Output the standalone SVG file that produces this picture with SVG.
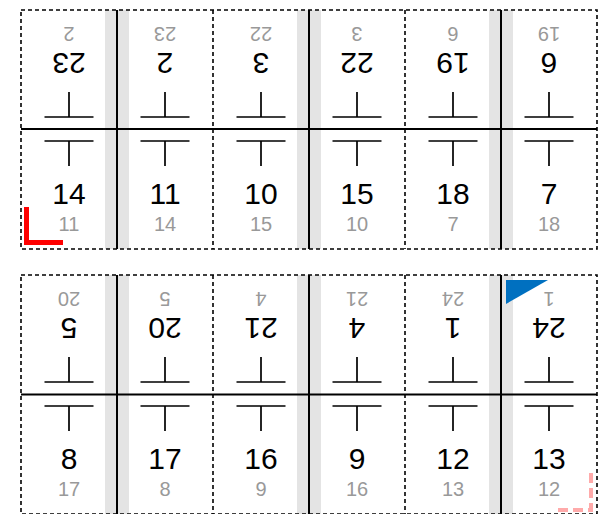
<svg xmlns="http://www.w3.org/2000/svg" width="600" height="514" viewBox="0 0 600 514">
<style>
.bg{fill:#ffffff}
.band{fill:#e4e4e4}
.cut{fill:none;stroke:#000;stroke-width:1.6;stroke-dasharray:4,3}
.spine{stroke:#000;stroke-width:2;fill:none}
.mark{stroke:#000;stroke-width:1.7;fill:none}
.big{font-family:"Liberation Sans",Arial,sans-serif;font-size:30px;fill:#000;text-anchor:middle}
.small{font-family:"Liberation Sans",Arial,sans-serif;font-size:20px;fill:#999;text-anchor:middle}
</style>
<defs>
<g id="tmarks">
<path class="mark" d="M0,92V117M-24.5,117H24.5M-24.5,141H24.5M0,141V166"/>
</g>
</defs>
<rect class="bg" x="0" y="0" width="600" height="514"/>

<!-- Sheet 1 -->
<g id="sheet1">
<g id="sheet1-bands">
<rect class="band" x="105" y="10" width="24" height="239"/>
<rect class="band" x="297" y="10" width="24" height="239"/>
<rect class="band" x="489" y="10" width="24" height="239"/>
</g>
<g id="sheet1-lines">
<rect class="cut" x="21" y="10" width="576" height="239"/>
<line class="cut" x1="213" y1="10" x2="213" y2="249"/>
<line class="cut" x1="405" y1="10" x2="405" y2="249"/>
<line class="spine" x1="117" y1="10" x2="117" y2="249"/>
<line class="spine" x1="309" y1="10" x2="309" y2="249"/>
<line class="spine" x1="501" y1="10" x2="501" y2="249"/>
<line class="spine" x1="21" y1="129" x2="597" y2="129"/>
</g>
<g id="s1-c1"><use href="#tmarks" x="69"/>
<text class="small" x="69" y="27" transform="rotate(180 69 27)">2</text>
<text class="big" x="69" y="53" transform="rotate(180 69 53)">23</text>
<text class="big" x="69" y="204">14</text>
<text class="small" x="69" y="231">11</text></g>
<g id="s1-c2"><use href="#tmarks" x="165"/>
<text class="small" x="165" y="27" transform="rotate(180 165 27)">23</text>
<text class="big" x="165" y="53" transform="rotate(180 165 53)">2</text>
<text class="big" x="165" y="204">11</text>
<text class="small" x="165" y="231">14</text></g>
<g id="s1-c3"><use href="#tmarks" x="261"/>
<text class="small" x="261" y="27" transform="rotate(180 261 27)">22</text>
<text class="big" x="261" y="53" transform="rotate(180 261 53)">3</text>
<text class="big" x="261" y="204">10</text>
<text class="small" x="261" y="231">15</text></g>
<g id="s1-c4"><use href="#tmarks" x="357"/>
<text class="small" x="357" y="27" transform="rotate(180 357 27)">3</text>
<text class="big" x="357" y="53" transform="rotate(180 357 53)">22</text>
<text class="big" x="357" y="204">15</text>
<text class="small" x="357" y="231">10</text></g>
<g id="s1-c5"><use href="#tmarks" x="453"/>
<text class="small" x="453" y="27" transform="rotate(180 453 27)">6</text>
<text class="big" x="453" y="53" transform="rotate(180 453 53)">19</text>
<text class="big" x="453" y="204">18</text>
<text class="small" x="453" y="231">7</text></g>
<g id="s1-c6"><use href="#tmarks" x="549"/>
<text class="small" x="549" y="27" transform="rotate(180 549 27)">19</text>
<text class="big" x="549" y="53" transform="rotate(180 549 53)">6</text>
<text class="big" x="549" y="204">7</text>
<text class="small" x="549" y="231">18</text></g>
<path id="front-mark" d="M26.5,207V242.5H63" fill="none" stroke="#ff0000" stroke-width="5"/>
</g>

<!-- Sheet 2 -->
<g id="sheet2" transform="translate(0,265)">
<g id="sheet2-bands">
<rect class="band" x="105" y="10" width="24" height="239"/>
<rect class="band" x="297" y="10" width="24" height="239"/>
<rect class="band" x="489" y="10" width="24" height="239"/>
</g>
<g id="sheet2-lines">
<rect class="cut" x="21" y="10" width="576" height="239"/>
<line class="cut" x1="213" y1="10" x2="213" y2="249"/>
<line class="cut" x1="405" y1="10" x2="405" y2="249"/>
<line class="spine" x1="117" y1="10" x2="117" y2="249"/>
<line class="spine" x1="309" y1="10" x2="309" y2="249"/>
<line class="spine" x1="501" y1="10" x2="501" y2="249"/>
<line class="spine" x1="21" y1="129.5" x2="597" y2="129.5"/>
</g>
<g id="s2-c1"><use href="#tmarks" x="69"/>
<text class="small" x="69" y="27" transform="rotate(180 69 27)">20</text>
<text class="big" x="69" y="53" transform="rotate(180 69 53)">5</text>
<text class="big" x="69" y="204">8</text>
<text class="small" x="69" y="231">17</text></g>
<g id="s2-c2"><use href="#tmarks" x="165"/>
<text class="small" x="165" y="27" transform="rotate(180 165 27)">5</text>
<text class="big" x="165" y="53" transform="rotate(180 165 53)">20</text>
<text class="big" x="165" y="204">17</text>
<text class="small" x="165" y="231">8</text></g>
<g id="s2-c3"><use href="#tmarks" x="261"/>
<text class="small" x="261" y="27" transform="rotate(180 261 27)">4</text>
<text class="big" x="261" y="53" transform="rotate(180 261 53)">21</text>
<text class="big" x="261" y="204">16</text>
<text class="small" x="261" y="231">9</text></g>
<g id="s2-c4"><use href="#tmarks" x="357"/>
<text class="small" x="357" y="27" transform="rotate(180 357 27)">21</text>
<text class="big" x="357" y="53" transform="rotate(180 357 53)">4</text>
<text class="big" x="357" y="204">9</text>
<text class="small" x="357" y="231">16</text></g>
<g id="s2-c5"><use href="#tmarks" x="453"/>
<text class="small" x="453" y="27" transform="rotate(180 453 27)">24</text>
<text class="big" x="453" y="53" transform="rotate(180 453 53)">1</text>
<text class="big" x="453" y="204">12</text>
<text class="small" x="453" y="231">13</text></g>
<g id="s2-c6"><use href="#tmarks" x="549"/>
<text class="small" x="549" y="27" transform="rotate(180 549 27)">1</text>
<text class="big" x="549" y="53" transform="rotate(180 549 53)">24</text>
<text class="big" x="549" y="204">13</text>
<text class="small" x="549" y="231">12</text></g>
<polygon id="first-page-mark" points="506,15 548,15 506,39" fill="#0070c0"/>
<path id="back-mark" d="M591,208V245H555" fill="none" stroke="#ffaaaa" stroke-width="4" stroke-dasharray="10,5"/>
</g>
</svg>
